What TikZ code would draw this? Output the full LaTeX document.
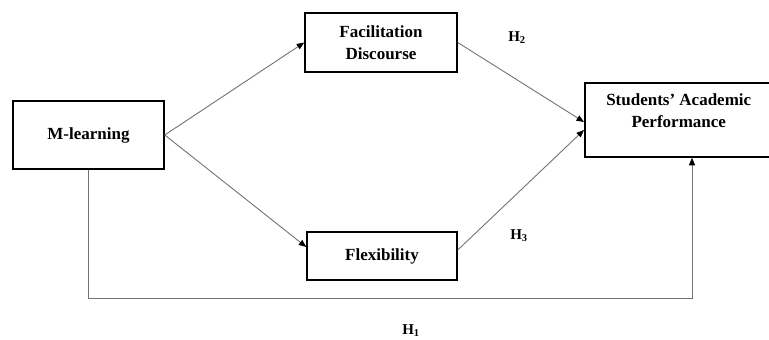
\documentclass[tikz,border=0pt]{standalone}
\usepackage{fontspec}
\setmainfont{Liberation Serif}
\usetikzlibrary{arrows.meta}
\begin{document}
\begin{tikzpicture}[x=1pt,y=-1pt,
  box/.style={draw=black,line width=1.5pt,rectangle,align=center,inner sep=0pt,
    font=\fontsize{17}{22}\selectfont\bfseries},
  conn/.style={draw=black!55,line width=0.9pt,-{Triangle[length=7.5pt,width=6pt,color=black]}},
  hlab/.style={font=\fontsize{15}{18}\selectfont\bfseries}]
\useasboundingbox (0,0) rectangle (769,340);
\clip (0,0) rectangle (769,340);
\node[box,minimum width=188pt,minimum height=74pt,anchor=west] (sap) at (584,120)
  {Students’ Academic\\Performance\\[-4pt]\mbox{}};
\node[box,minimum width=151pt,minimum height=68pt] (ml) at (88.5,135) {M-learning};
\node[box,minimum width=152pt,minimum height=59pt] (fd) at (381,42.5) {Facilitation\\Discourse};
\node[box,minimum width=150pt,minimum height=48pt] (fx) at (382,256) {Flexibility};
\draw[conn] (ml.east) -- (fd.west);
\draw[conn] (ml.east) -- ([yshift=9pt]fx.west);
\draw[conn] (fd.east) -- ([yshift=-2pt]sap.west);
\draw[conn] ([yshift=6pt]fx.east) -- ([yshift=-10pt]sap.west);
\coordinate (c2) at (692,298);
\draw[conn] (ml.south) -- (ml.south |- c2) -- (c2) -- (sap.south -| c2);
\node[hlab] (h2) at (517,38) {H\textsubscript{2}};
\node[hlab] (h3) at (519,236) {H\textsubscript{3}};
\node[hlab] (h1) at (411,331) {H\textsubscript{1}};
\end{tikzpicture}
\end{document}
